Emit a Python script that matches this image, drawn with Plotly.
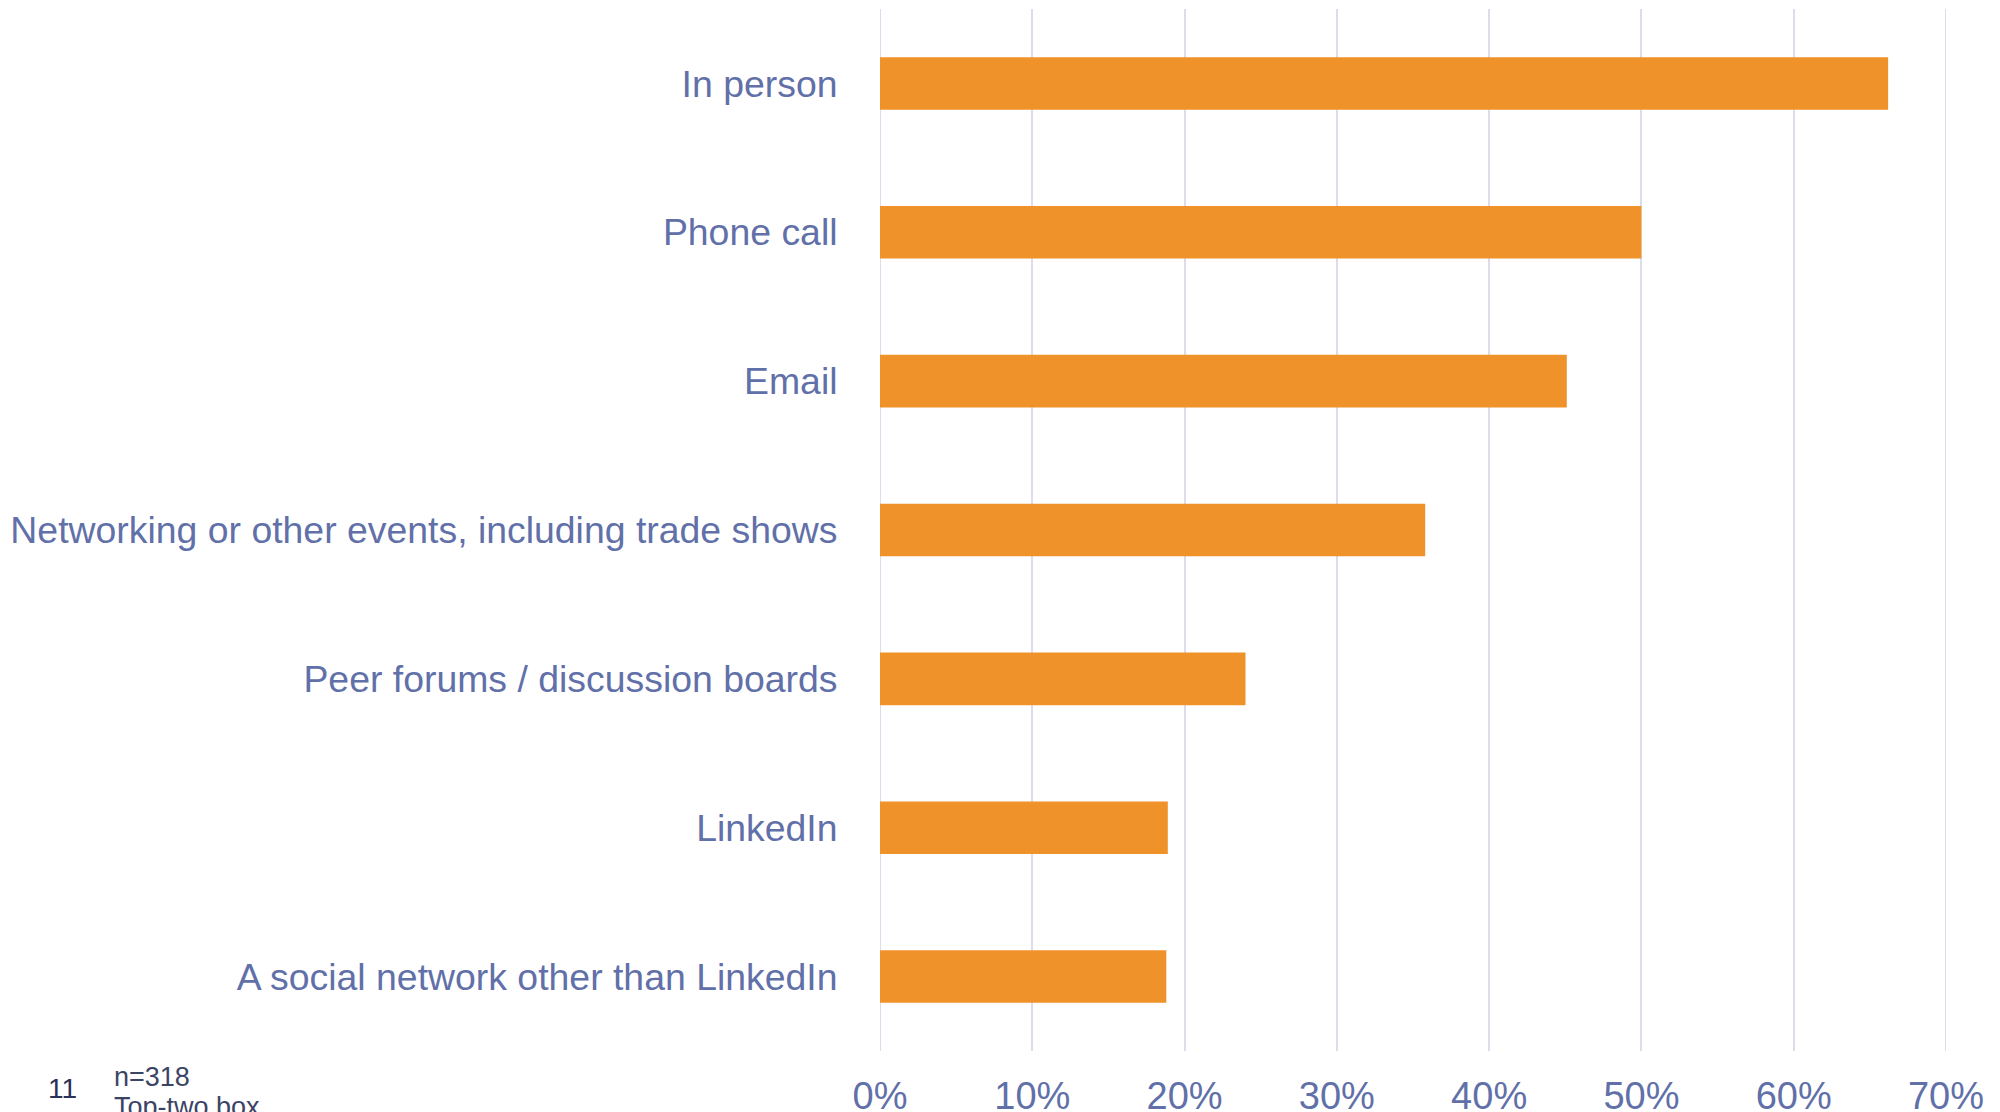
import plotly.graph_objects as go

categories = [
    "In person",
    "Phone call",
    "Email",
    "Networking or other events, including trade shows",
    "Peer forums / discussion boards",
    "LinkedIn",
    "A social network other than LinkedIn",
]
values = [0.662, 0.500, 0.451, 0.358, 0.240, 0.189, 0.188]
tick_vals = [0, 0.1, 0.2, 0.3, 0.4, 0.5, 0.6, 0.7]
tick_text = ["0%", "10%", "20%", "30%", "40%", "50%", "60%", "70%"]
footnote_page = "11"
footnote_lines = ["n=318", "Top-two box"]

W, H = 2000, 1112
L, R, T, B = 880, 54, 9, 61
pw, ph = W - L - R, H - T - B


def px_x(x):
    return (x - L) / pw


def px_y(y):
    return 1 - (y - T) / ph


label_color = "#6170A8"
bar_color = "#F0922A"
grid_color = "#DCDDEC"
font_family = "Liberation Sans, Arial, sans-serif"

fig = go.Figure(
    go.Bar(
        x=values,
        y=categories,
        orientation="h",
        marker=dict(color=bar_color, line=dict(width=0)),
        hoverinfo="skip",
    )
)

fig.update_layout(
    width=W,
    height=H,
    margin=dict(l=L, r=R, t=T, b=B, pad=0, autoexpand=False),
    paper_bgcolor="white",
    plot_bgcolor="white",
    bargap=0.647,
    showlegend=False,
    font=dict(family=font_family, color=label_color, size=37),
)

fig.update_xaxes(
    range=[0, 0.7],
    tickvals=tick_vals,
    ticktext=tick_text,
    showgrid=True,
    gridcolor=grid_color,
    gridwidth=2,
    zeroline=False,
    showline=False,
    ticks="outside",
    ticklen=11,
    tickcolor="rgba(0,0,0,0)",
    tickfont=dict(size=38, color=label_color, family=font_family),
    automargin=False,
    fixedrange=True,
)

fig.update_yaxes(
    categoryorder="array",
    categoryarray=categories,
    range=[6.5, -0.5],
    showgrid=False,
    zeroline=False,
    showline=False,
    ticks="outside",
    ticklen=34,
    tickcolor="rgba(0,0,0,0)",
    tickfont=dict(size=37.4, color=label_color, family=font_family),
    automargin=False,
    fixedrange=True,
)

# gridlines at the range edges (0% and 70%)
for edge in (tick_vals[0], tick_vals[-1]):
    fig.add_shape(
        type="line", xref="x", yref="paper", x0=edge, x1=edge, y0=0, y1=1,
        line=dict(color=grid_color, width=2), layer="below",
    )

fig.add_annotation(
    text=footnote_page, xref="paper", yref="paper",
    x=px_x(46), y=px_y(1088), xanchor="left", yanchor="middle",
    showarrow=False, font=dict(size=28, color="#2B3258", family=font_family),
)
fig.add_annotation(
    text=footnote_lines[0], xref="paper", yref="paper",
    x=px_x(112), y=px_y(1060), xanchor="left", yanchor="top",
    showarrow=False, font=dict(size=27, color="#3C4466", family=font_family),
)
fig.add_annotation(
    text=footnote_lines[1], xref="paper", yref="paper",
    x=px_x(112), y=px_y(1090), xanchor="left", yanchor="top",
    showarrow=False, font=dict(size=27, color="#3C4466", family=font_family),
)

fig.write_html("out.html")
